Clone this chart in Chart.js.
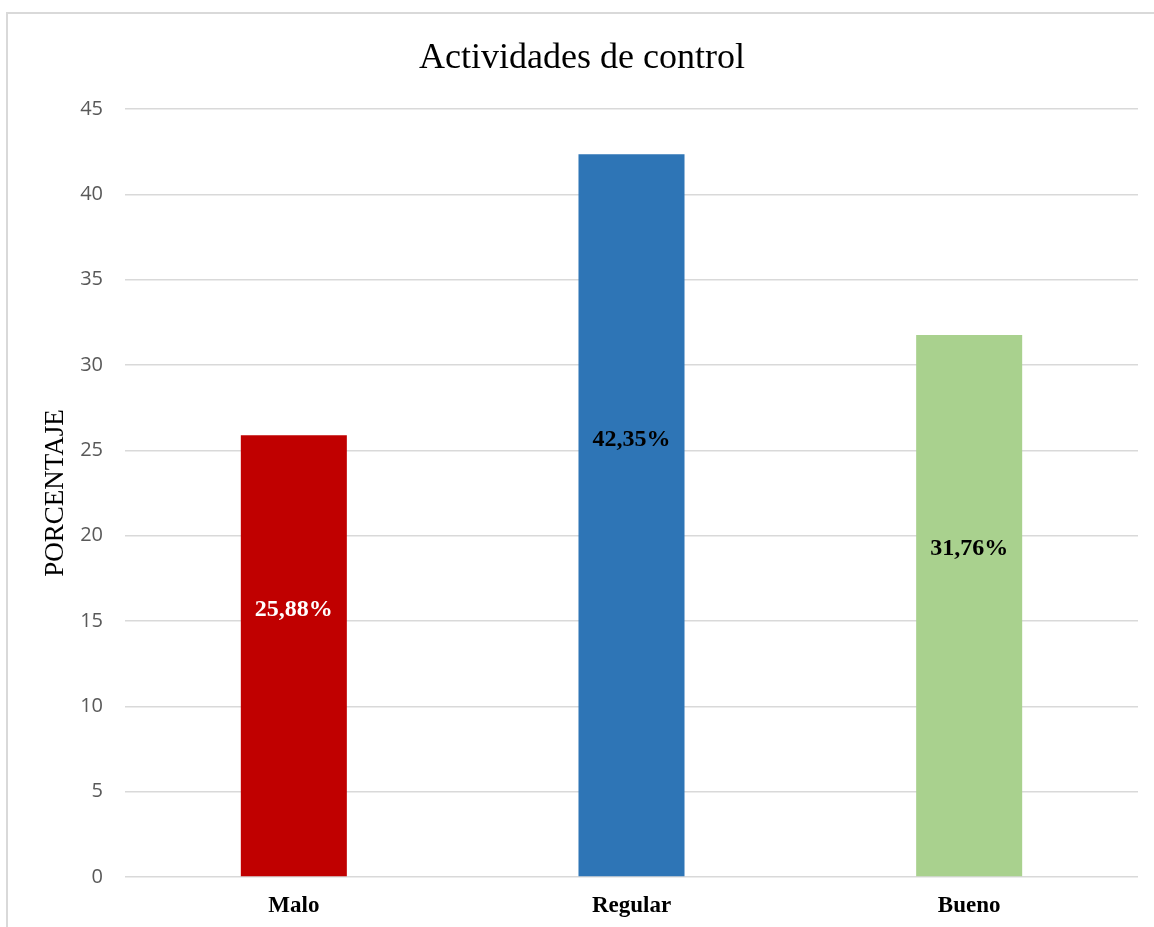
<!DOCTYPE html>
<html lang="es">
<head>
  <meta charset="UTF-8" />
  <title>Actividades de control</title>
  <script src="https://cdn.jsdelivr.net/npm/chart.js"></script>
  <style>
    html, body { margin: 0; padding: 0; background: #fff; }
    #wrap { width: 1154px; height: 927px; }
  </style>
</head>
<body>
<div id="wrap"><canvas id="chart"></canvas></div>
<script>
  // Chart data
  const chartTitle = "Actividades de control";
  const categories = ["Malo", "Regular", "Bueno"];
  const values = [25.88, 42.35, 31.76];
  const barColors = ["#C00000", "#2E75B6", "#A9D18E"];
  const labelColors = ["#FFFFFF", "#000000", "#000000"];

  const serif = "'Liberation Serif', 'Times New Roman', serif";

  // white background, light frame (top and left edge visible) and the title
  const framePlugin = {
    id: "frame",
    beforeDraw(chart) {
      const ctx = chart.ctx;
      ctx.save();
      ctx.fillStyle = "#fff";
      ctx.fillRect(0, 0, chart.width, chart.height);
      ctx.strokeStyle = "#d9d9d9";
      ctx.lineWidth = 2;
      ctx.beginPath();
      ctx.moveTo(7, chart.height);
      ctx.lineTo(7, 13);
      ctx.lineTo(chart.width, 13);
      ctx.stroke();

      ctx.fillStyle = "#000";
      ctx.font = "36px " + serif;
      ctx.textAlign = "center";
      ctx.textBaseline = "alphabetic";
      ctx.fillText(chartTitle, chart.width / 2 + 5, 68);
      ctx.restore();
    }
  };

  // percentage labels inside the bars
  const valueLabels = {
    id: "valueLabels",
    afterDatasetsDraw(chart) {
      const ctx = chart.ctx;
      const yScale = chart.scales.y;
      const meta = chart.getDatasetMeta(0);
      ctx.save();
      ctx.font = "bold 24px " + serif;
      ctx.textAlign = "center";
      ctx.textBaseline = "middle";
      meta.data.forEach((bar, i) => {
        const v = values[i];
        ctx.fillStyle = labelColors[i];
        ctx.fillText(v.toFixed(2).replace(".", ",") + "%", bar.x, yScale.getPixelForValue(v * 0.605));
      });
      ctx.restore();
    }
  };

  new Chart(document.getElementById("chart"), {
    type: "bar",
    data: {
      labels: categories,
      datasets: [{
        data: values,
        backgroundColor: barColors,
        borderWidth: 0,
        barPercentage: 0.314,
        categoryPercentage: 1
      }]
    },
    options: {
      responsive: true,
      maintainAspectRatio: false,
      animation: false,
      layout: {
        autoPadding: false,
        padding: { left: 6, top: 109, right: 16, bottom: 0 }
      },
      plugins: {
        legend: { display: false },
        tooltip: { enabled: false },
        title: { display: false }
      },
      scales: {
        x: {
          grid: { display: false },
          border: { display: false },
          ticks: {
            color: "#000",
            padding: 7,
            font: { family: serif, size: 23, weight: "bold" }
          },
          afterFit(scale) { scale.height = 50; }
        },
        y: {
          min: 0,
          max: 45,
          ticks: {
            stepSize: 5,
            color: "#595959",
            padding: 22,
            font: { family: "'Open Sans', sans-serif", size: 20 }
          },
          grid: { color: "#d9d9d9", lineWidth: 1.5, drawTicks: false },
          border: { display: false },
          title: {
            display: true,
            text: "PORCENTAJE",
            color: "#000",
            font: { family: serif, size: 27, lineHeight: 1.2 },
            padding: { top: 34, bottom: 0 }
          },
          afterFit(scale) { scale.width = 119; }
        }
      }
    },
    plugins: [framePlugin, valueLabels]
  });
</script>
</body>
</html>
